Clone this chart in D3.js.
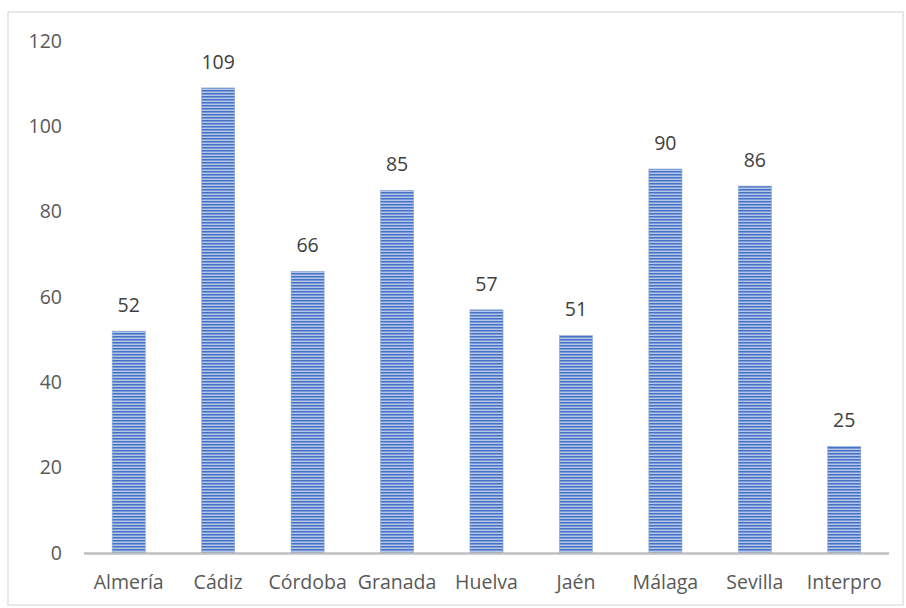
<!DOCTYPE html>
<html><head><meta charset="utf-8">
<script src="https://cdn.jsdelivr.net/npm/d3@7"></script>
<style>body{margin:0;background:#fff}svg{display:block}</style>
</head><body>
<svg id="c" width="906" height="608"></svg>
<script>
const categories = ["Almería","Cádiz","Córdoba","Granada","Huelva","Jaén","Málaga","Sevilla","Interpro"];
const values = [52,109,66,85,57,51,90,86,25];
const yTicks = [0,20,40,60,80,100,120];

const svg = d3.select("#c");
const font = "'Open Sans', sans-serif";
svg.append("rect").attr("x",8).attr("y",12).attr("width",895).attr("height",593)
  .attr("fill","#fff").attr("stroke","#d9d9d9").attr("stroke-width",1.2);

const defs = svg.append("defs");
const pat = defs.append("pattern").attr("id","stripes").attr("patternUnits","userSpaceOnUse")
  .attr("width",6).attr("height",3);
pat.append("rect").attr("width",6).attr("height",3).attr("fill","#bccdec");
pat.append("rect").attr("y",0).attr("width",6).attr("height",1.3).attr("fill","#4472c4");
pat.append("rect").attr("y",1.3).attr("width",6).attr("height",0.8).attr("fill","#6d8fd2");

const x = d3.scaleBand().domain(categories).range([84,889]).paddingInner(0.63).paddingOuter(0.315);
const y = d3.scaleLinear().domain([0,120]).range([553,41]);

// y labels
svg.append("g").selectAll("text").data(yTicks).join("text")
  .attr("x",62).attr("y",d=>y(d)).attr("dy","0.35em").attr("text-anchor","end")
  .attr("font-family",font).attr("font-size",19.5).attr("fill","#595959").text(d=>d);

// bars
svg.append("g").selectAll("rect").data(values).join("rect")
  .attr("x",(d,i)=>x(categories[i])).attr("width",x.bandwidth())
  .attr("y",d=>y(d)).attr("height",d=>y(0)-y(d))
  .attr("fill","url(#stripes)").attr("stroke","#8eaadb").attr("stroke-width",0.6);

// value labels
svg.append("g").selectAll("text").data(values).join("text")
  .attr("x",(d,i)=>x(categories[i])+x.bandwidth()/2).attr("y",d=>y(d)-26).attr("dy","0.35em")
  .attr("text-anchor","middle").attr("font-family",font).attr("font-size",19.5).attr("fill","#404040").text(d=>d);

// x axis line
svg.append("line").attr("x1",84).attr("x2",889).attr("y1",y(0)+0.5).attr("y2",y(0)+0.5)
  .attr("stroke","#bfbfbf").attr("stroke-width",2.5);

// x labels
svg.append("g").selectAll("text").data(categories).join("text")
  .attr("x",d=>x(d)+x.bandwidth()/2).attr("y",582).attr("dy","0.35em")
  .attr("text-anchor","middle").attr("font-family",font).attr("font-size",19.5).attr("fill","#595959").text(d=>d);
</script>
</body></html>
